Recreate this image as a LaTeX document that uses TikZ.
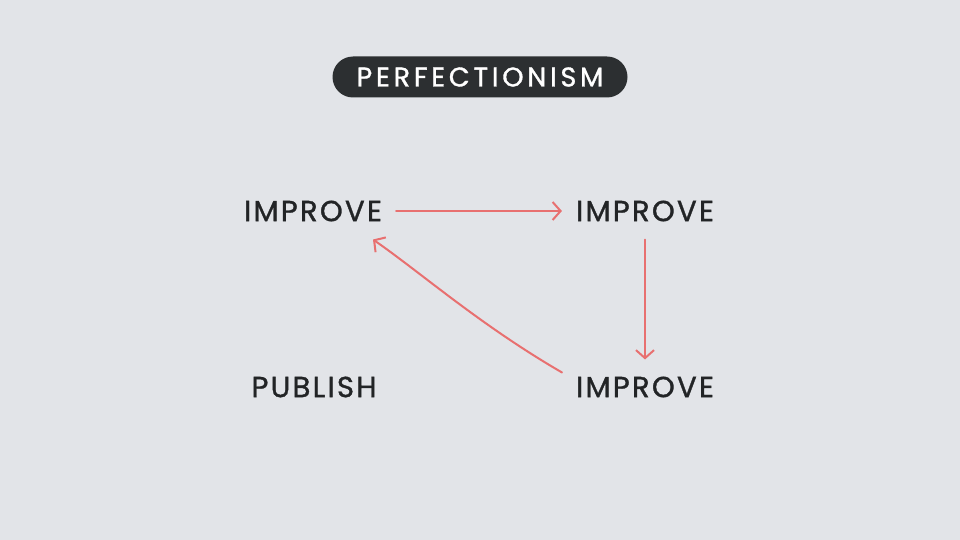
\documentclass[tikz,border=0pt]{standalone}
\usepackage{fontspec}
\setmainfont{Poppins}[LetterSpace=8,FakeBold=1.2]
\newfontfamily\headfont{Poppins}[LetterSpace=14,FakeBold=1.2]
\usetikzlibrary{arrows.meta}
\definecolor{bgcol}{RGB}{226,228,232}
\definecolor{pillcol}{RGB}{44,47,49}
\definecolor{arrcol}{RGB}{232,112,112}
\definecolor{txtcol}{RGB}{34,36,38}
\begin{document}
\begin{tikzpicture}[x=1pt,y=-1pt]
\tikzset{
    word/.style={text=txtcol, font=\fontsize{29}{30}\selectfont, inner sep=0pt, anchor=center},
    title/.style={fill=pillcol, text=white, rounded corners=20.5pt, minimum width=295pt, minimum height=41pt, inner sep=0pt, font=\headfont\fontsize{27}{28}\selectfont},
    link/.style={draw=arrcol, line width=2pt, line cap=round, -{Straight Barb[length=8pt,width=18pt,line width=2pt]}}}
\def\gap{14}

\fill[bgcol] (0,0) rectangle (960,540);
\useasboundingbox (0,0) rectangle (960,540);

\node[title] (head) at (480,77) {PERFECTIONISM};

\node[word] (imp1) at (313,211) {IMPROVE};
\node[word] (imp2) at (645,211) {IMPROVE};
\node[word] (imp3) at (645,387) {IMPROVE};
\node[word] (pub) at (314,387) {PUBLISH};

\draw[link] ([xshift=\gap]imp1.east) -- ([xshift=-\gap]imp2.west);
\draw[link] ([shift={(0,18)}]imp2.south) -- ([shift={(0,-17)}]imp3.north);
\draw[link] ([shift={(-83,-4)}]imp3.north) .. controls (480,325) and (420,272) .. ([shift={(60,18)}]imp1.south);

\end{tikzpicture}
\end{document}
